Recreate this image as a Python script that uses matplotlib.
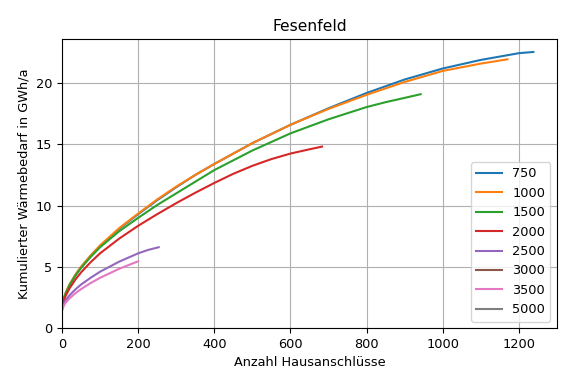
import matplotlib
matplotlib.use("Agg")
import matplotlib.pyplot as plt

# Werte (Anzahl Hausanschlüsse, kumulierter Wärmebedarf in GWh/a)
x_750 = [0, 5, 10, 20, 35, 50, 75, 100, 150, 200, 250, 300, 350, 400, 500, 600, 700, 800, 900, 1000, 1100, 1200, 1238]
y_750 = [1.6, 2.45, 2.88, 3.54, 4.32, 4.97, 5.89, 6.7, 8.1, 9.3, 10.44, 11.5, 12.5, 13.4, 15.1, 16.6, 17.95, 19.2, 20.3, 21.2, 21.9, 22.45, 22.55]

x_1000 = [0, 5, 10, 20, 35, 50, 75, 100, 150, 200, 250, 300, 350, 400, 500, 600, 700, 800, 900, 1000, 1100, 1170]
y_1000 = [1.6, 2.46, 2.9, 3.56, 4.35, 5.0, 5.92, 6.75, 8.15, 9.35, 10.5, 11.55, 12.5, 13.4, 15.1, 16.6, 17.9, 19.05, 20.1, 21.0, 21.6, 21.95]

x_1500 = [0, 5, 10, 20, 35, 50, 75, 100, 150, 200, 250, 300, 350, 400, 500, 600, 700, 800, 850, 900, 942]
y_1500 = [1.6, 2.43, 2.85, 3.5, 4.27, 4.9, 5.8, 6.6, 7.9, 9.0, 10.05, 11.0, 11.95, 12.9, 14.5, 15.9, 17.05, 18.05, 18.45, 18.8, 19.1]

x_2000 = [0, 5, 10, 20, 35, 50, 75, 100, 150, 200, 250, 300, 350, 400, 450, 500, 550, 600, 650, 683]
y_2000 = [1.5, 2.26, 2.65, 3.25, 3.95, 4.54, 5.37, 6.1, 7.3, 8.35, 9.3, 10.2, 11.05, 11.85, 12.6, 13.25, 13.8, 14.25, 14.6, 14.82]

x_2500 = [0, 5, 10, 20, 35, 50, 75, 100, 150, 200, 225, 254]
y_2500 = [1.5, 2.01, 2.28, 2.68, 3.15, 3.55, 4.1, 4.6, 5.42, 6.1, 6.37, 6.6]

x_3000 = []
y_3000 = []

x_3500 = [0, 5, 10, 20, 35, 50, 75, 100, 150, 200]
y_3500 = [1.4, 1.85, 2.08, 2.43, 2.84, 3.18, 3.67, 4.1, 4.84, 5.45]

x_5000 = []
y_5000 = []

reihen = [
    ("750", x_750, y_750),
    ("1000", x_1000, y_1000),
    ("1500", x_1500, y_1500),
    ("2000", x_2000, y_2000),
    ("2500", x_2500, y_2500),
    ("3000", x_3000, y_3000),
    ("3500", x_3500, y_3500),
    ("5000", x_5000, y_5000),
]

plt.rcParams["font.size"] = 9.3

fig = plt.figure(figsize=(5.66, 3.81), dpi=100)
ax = fig.add_axes([0.1095, 0.139, 0.8745, 0.7586])

for name, xs, ys in reihen:
    ax.plot(xs, ys, label=name)

ax.set_xlim(left=0)
ax.set_ylim(bottom=0)
ax.set_title("Fesenfeld")
ax.set_xlabel("Anzahl Hausanschlüsse")
ax.set_ylabel("Kumulierter Wärmebedarf in GWh/a")
ax.grid(True)
ax.legend(loc="lower right")

fig.savefig("out.png", dpi=100)
